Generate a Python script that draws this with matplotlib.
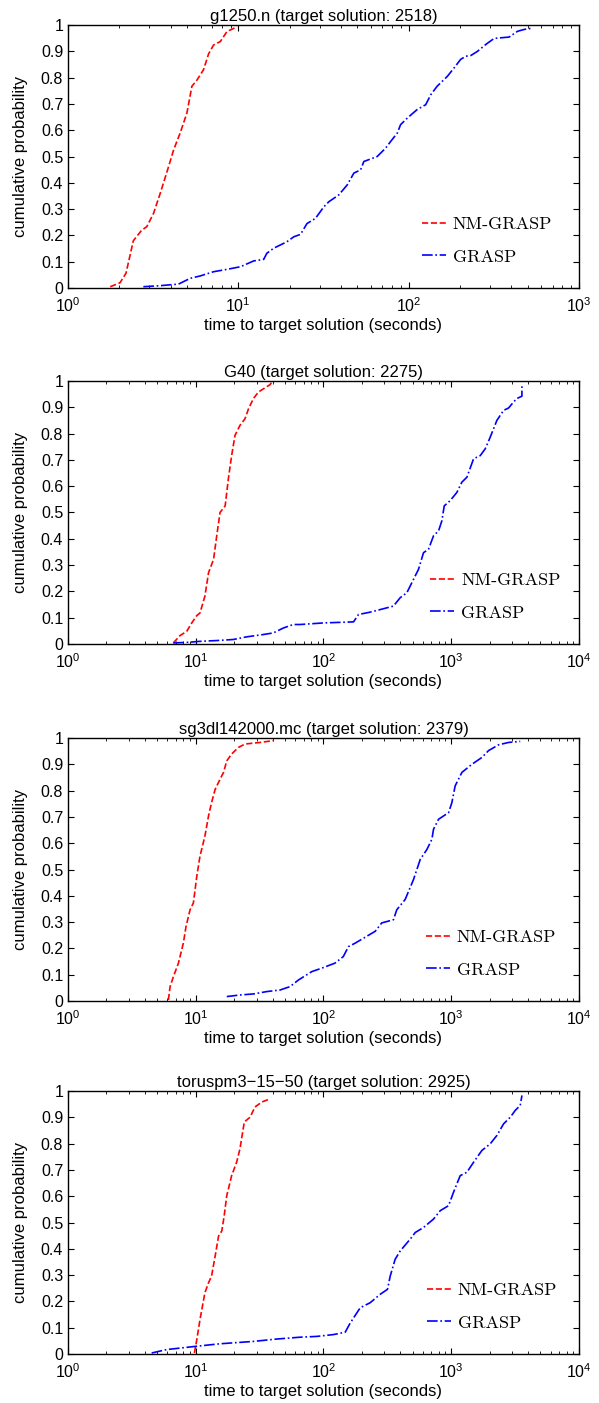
import numpy as np
import matplotlib
matplotlib.use('Agg')
import matplotlib.pyplot as plt

plt.rcParams['font.family'] = ['Liberation Sans', 'DejaVu Sans']
plt.rcParams['mathtext.fontset'] = 'custom'
plt.rcParams['mathtext.rm'] = 'Liberation Sans'
plt.rcParams['mathtext.it'] = 'Liberation Sans:italic'
plt.rcParams['mathtext.bf'] = 'Liberation Sans:bold'

# Panel titles and x limits
titles = ['g1250.n (target solution: 2518)',
          'G40 (target solution: 2275)',
          'sg3dl142000.mc (target solution: 2379)',
          'toruspm3\u221215\u221250 (target solution: 2925)']
xmax = [1e3, 1e4, 1e4, 1e4]

# g1250.n
nm1_t = [1.77, 2.02, 2.19, 2.42, 2.71, 2.90, 3.18, 3.48, 3.89, 4.17, 4.56, 4.99, 5.34, 5.71,
         6.25, 6.69, 7.16, 7.84, 8.58, 9.39, 9.82]
nm1_p = [0.005, 0.02, 0.056, 0.18, 0.22, 0.233, 0.284, 0.36, 0.46, 0.525, 0.59, 0.665, 0.767,
         0.79, 0.83, 0.89, 0.924, 0.937, 0.975, 0.987, 0.994]
gr1_t = [2.77, 3.48, 4.46, 5.22, 5.98, 7.16, 8.58, 10.3, 12.3, 14.1, 14.7, 16.1, 19.3, 21.2, 23.2,
         25.3, 28.4, 31.8, 34.0, 38.9, 43.6, 47.7, 52.2, 54.6, 65.4, 73.3, 78.4, 85.8, 89.7, 98.2,
         112, 126, 135, 147, 169, 185, 202, 216, 232, 254, 284, 318, 389, 436, 477, 522]
gr1_p = [0.005, 0.009, 0.015, 0.037, 0.046, 0.062, 0.071, 0.081, 0.103, 0.109, 0.132, 0.151, 0.176,
         0.195, 0.204, 0.245, 0.265, 0.309, 0.328, 0.354, 0.392, 0.437, 0.449, 0.481, 0.5, 0.532,
         0.557, 0.589, 0.621, 0.646, 0.678, 0.697, 0.735, 0.767, 0.805, 0.837, 0.869, 0.881, 0.884,
         0.9, 0.926, 0.949, 0.954, 0.976, 0.983, 0.987]

# G40
nm2_t = [6.68, 7.54, 8.5, 9.31, 10.2, 10.8, 11.8, 12.6, 13.8, 14.6, 15.5, 17.0, 18.0, 19.1, 20.3,
         22.2, 24.3, 25.9, 28.3, 31.0, 33.9, 38.2, 39.4]
nm2_p = [0.004, 0.032, 0.048, 0.08, 0.108, 0.118, 0.182, 0.271, 0.322, 0.411, 0.5, 0.525, 0.627,
         0.716, 0.793, 0.831, 0.856, 0.894, 0.933, 0.958, 0.97, 0.986, 0.996]
gr2_t = [6.68, 8.5, 10.8, 14.6, 19.7, 25.0, 33.9, 40.5, 48.7, 58.1, 65.6, 100, 172, 188, 232, 295,
         353, 399, 450, 492, 555, 607, 664, 727, 796, 845, 882, 982, 1107, 1212, 1327, 1497, 1688,
         1847, 2020, 2279, 2571, 2813, 3079, 3268, 3578, 3578]
gr2_p = [0.004, 0.006, 0.01, 0.013, 0.017, 0.027, 0.036, 0.042, 0.061, 0.074, 0.074, 0.08, 0.084,
         0.112, 0.121, 0.134, 0.144, 0.176, 0.195, 0.233, 0.284, 0.347, 0.36, 0.411, 0.43, 0.468,
         0.525, 0.545, 0.576, 0.615, 0.634, 0.704, 0.716, 0.742, 0.786, 0.85, 0.888, 0.897, 0.92,
         0.933, 0.942, 0.983]

# sg3dl142000.mc
nm3_t = [6.11, 6.3, 6.69, 7.32, 8.0, 8.4, 9.03, 9.59, 10.2, 10.8, 11.8, 12.6, 13.3, 14.2, 15.5,
         16.5, 17.5, 19.1, 21.6, 24.3, 31.9, 40.6]
nm3_p = [0.004, 0.055, 0.093, 0.144, 0.22, 0.284, 0.347, 0.373, 0.475, 0.551, 0.627, 0.704, 0.754,
         0.805, 0.843, 0.869, 0.913, 0.939, 0.964, 0.977, 0.983, 0.99]
gr3_t = [17.5, 22.2, 28.3, 36.0, 45.8, 54.8, 63.7, 81.1, 97, 123, 143, 157, 177, 218, 254, 286,
         353, 375, 436, 507, 572, 645, 706, 727, 796, 953, 1012, 1074, 1212, 1453, 1740, 1961,
         2348, 2813, 3470]
gr3_p = [0.017, 0.023, 0.027, 0.036, 0.042, 0.055, 0.08, 0.112, 0.125, 0.144, 0.169, 0.207, 0.22,
         0.246, 0.265, 0.297, 0.309, 0.347, 0.386, 0.462, 0.538, 0.576, 0.615, 0.653, 0.691, 0.716,
         0.754, 0.818, 0.869, 0.9, 0.926, 0.952, 0.974, 0.983, 0.987]

# toruspm3-15-50
nm4_t = [9.77, 10.2, 10.8, 11.8, 12.6, 13.3, 14.2, 15.1, 16.0, 16.7, 17.5, 19.1, 20.9, 22.2, 24.0,
         26.6, 29.1, 32.9, 38.2]
nm4_p = [0.004, 0.055, 0.131, 0.233, 0.271, 0.296, 0.373, 0.449, 0.468, 0.525, 0.602, 0.678, 0.729,
         0.78, 0.882, 0.9, 0.939, 0.958, 0.97]
gr4_t = [4.52, 5.93, 9.88, 15.5, 28.3, 43.1, 65.6, 88.7, 120, 148, 162, 194, 232, 278, 317, 333,
         364, 399, 478, 523, 607, 727, 821, 953, 1043, 1176, 1327, 1497, 1740, 2020, 2279, 2571,
         2900, 3171, 3470, 3580]
gr4_p = [0.004, 0.017, 0.029, 0.039, 0.048, 0.057, 0.064, 0.067, 0.074, 0.083, 0.118, 0.176, 0.195,
         0.227, 0.246, 0.296, 0.36, 0.392, 0.437, 0.462, 0.481, 0.513, 0.545, 0.564, 0.615, 0.678,
         0.691, 0.729, 0.774, 0.799, 0.831, 0.875, 0.9, 0.926, 0.945, 0.983]

nm_t = [nm1_t, nm2_t, nm3_t, nm4_t]
nm_p = [nm1_p, nm2_p, nm3_p, nm4_p]
gr_t = [gr1_t, gr2_t, gr3_t, gr4_t]
gr_p = [gr1_p, gr2_p, gr3_p, gr4_p]

fig = plt.figure(figsize=(5.99, 14.03), dpi=100)
bottoms = [0.7947, 0.541, 0.2865, 0.0349]
leg_x = [0.679, 0.695, 0.687, 0.689]

for i in range(4):
    ax = fig.add_axes([0.1135, bottoms[i], 0.853, 0.1875])
    ax.plot(nm_t[i], nm_p[i], color='red', linestyle='--', linewidth=1.2, label='NM-GRASP')
    ax.plot(gr_t[i], gr_p[i], color='blue', linestyle='-.', linewidth=1.2, label='GRASP')
    ax.set_xscale('log')
    ax.set_xlim(1, xmax[i])
    ax.set_ylim(0, 1)
    ax.set_yticks(np.arange(0, 1.01, 0.1))
    ax.set_yticklabels(['0'] + ['%.1f' % v for v in np.arange(0.1, 0.95, 0.1)] + ['1'])
    ax.tick_params(which='both', direction='in', top=True, right=True, labelsize=11.5)
    ax.tick_params(which='major', length=4)
    ax.tick_params(which='minor', length=2)
    ax.tick_params(axis='x', which='major', pad=6)
    for s in ax.spines.values():
        s.set_linewidth(1.0)
    ax.set_title(titles[i], fontsize=12, pad=3)
    ax.set_xlabel('time to target solution (seconds)', fontsize=12, labelpad=2)
    ax.set_ylabel('cumulative probability', fontsize=12, labelpad=9)
    ax.legend(loc='upper left', bbox_to_anchor=(leg_x[i], 0.30), frameon=False,
              prop={'family': 'cmr10', 'size': 13}, handlelength=1.3,
              handletextpad=0.4, labelspacing=0.95, borderaxespad=0)

fig.savefig('out.png', dpi=100)
